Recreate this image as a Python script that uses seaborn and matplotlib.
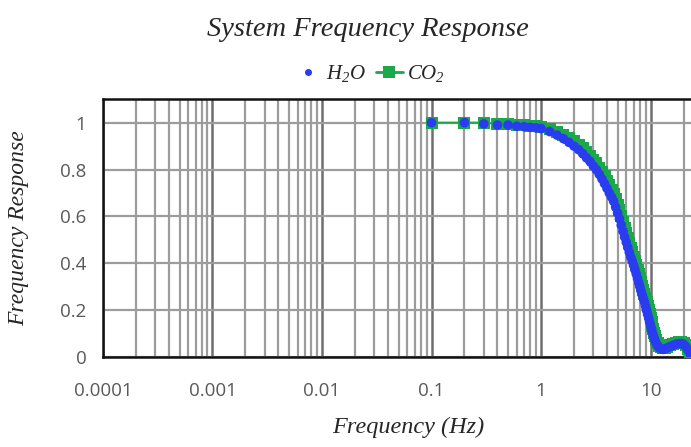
import pandas as pd
import matplotlib
matplotlib.use('Agg')
import matplotlib.pyplot as plt
import matplotlib.ticker as mticker
from matplotlib.lines import Line2D
import seaborn as sns

freq_h2o = [0.1, 0.2, 0.3, 0.4, 0.5, 0.6, 0.7, 0.8, 0.9, 1.0, 1.2, 1.4, 1.6, 1.8,
            2.0, 2.2, 2.4, 2.6, 2.8, 3.0, 3.2, 3.4, 3.6, 3.8, 4.0, 4.2, 4.4, 4.6,
            4.8, 5.0, 5.2, 5.4, 5.6, 5.8, 6.0, 6.2, 6.4, 6.6, 6.8, 7.0, 7.2, 7.4,
            7.6, 7.8, 8.0, 8.2, 8.4, 8.6, 8.8, 9.0, 9.2, 9.4, 9.6, 9.8, 10.0,
            10.2, 10.4, 10.6, 10.8, 11.0, 11.3, 11.6, 12.0, 12.5, 13.0, 13.5,
            14.0, 15.0, 16.0, 17.0, 18.0, 19.0, 20.0, 21.0, 22.0, 23.0, 24.0]
resp_h2o = [1.0, 1.0, 0.995, 0.99, 0.99, 0.985, 0.983, 0.98, 0.978, 0.975, 0.962,
            0.947, 0.932, 0.916, 0.9, 0.885, 0.868, 0.85, 0.835, 0.815, 0.8, 0.78,
            0.76, 0.74, 0.72, 0.70, 0.683, 0.665, 0.64, 0.615, 0.59, 0.563, 0.537,
            0.512, 0.49, 0.468, 0.447, 0.427, 0.41, 0.392, 0.373, 0.355, 0.336,
            0.317, 0.3, 0.282, 0.265, 0.25, 0.235, 0.218, 0.2, 0.183, 0.167, 0.15,
            0.135, 0.12, 0.105, 0.092, 0.08, 0.07, 0.058, 0.048, 0.04, 0.035,
            0.033, 0.035, 0.038, 0.045, 0.05, 0.055, 0.058, 0.058, 0.055, 0.045,
            0.03, 0.015, 0.005]

freq_co2 = [0.1, 0.2, 0.3, 0.4, 0.5, 0.6, 0.7, 0.8, 0.9, 1.0, 1.2, 1.4, 1.6, 1.8,
            2.0, 2.2, 2.4, 2.6, 2.8, 3.0, 3.2, 3.4, 3.6, 3.8, 4.0, 4.2, 4.4, 4.6,
            4.8, 5.0, 5.2, 5.4, 5.6, 5.8, 6.0, 6.2, 6.4, 6.6, 6.8, 7.0, 7.2, 7.4,
            7.6, 7.8, 8.0, 8.2, 8.4, 8.6, 8.8, 9.0, 9.2, 9.4, 9.6, 9.8, 10.0,
            10.2, 10.4, 10.6, 10.8, 11.0, 11.3, 11.6, 12.0, 12.5, 13.0, 13.5,
            14.0, 15.0, 16.0, 17.0, 18.0, 19.0, 20.0, 21.0, 22.0, 23.0, 24.0]
resp_co2 = [1.0, 1.0, 1.0, 0.995, 0.993, 0.99, 0.988, 0.986, 0.984, 0.982, 0.972,
            0.96, 0.947, 0.933, 0.92, 0.905, 0.89, 0.874, 0.858, 0.842, 0.826,
            0.808, 0.79, 0.772, 0.752, 0.733, 0.715, 0.695, 0.673, 0.65, 0.626,
            0.6, 0.575, 0.55, 0.528, 0.507, 0.486, 0.466, 0.447, 0.428, 0.41,
            0.392, 0.373, 0.355, 0.337, 0.32, 0.302, 0.285, 0.268, 0.252, 0.235,
            0.218, 0.2, 0.183, 0.166, 0.15, 0.134, 0.118, 0.103, 0.09, 0.074,
            0.06, 0.048, 0.042, 0.04, 0.041, 0.044, 0.05, 0.055, 0.06, 0.063,
            0.063, 0.06, 0.05, 0.036, 0.02, 0.008]

x_ticks = [0.0001, 0.001, 0.01, 0.1, 1, 10]
x_tick_labels = ['0.0001', '0.001', '0.01', '0.1', '1', '10']
y_ticks = [0, 0.2, 0.4, 0.6, 0.8, 1]
y_tick_labels = ['0', '0.2', '0.4', '0.6', '0.8', '1']

df_h2o = pd.DataFrame({'freq': freq_h2o, 'resp': resp_h2o})
df_co2 = pd.DataFrame({'freq': freq_co2, 'resp': resp_co2})

sns.set_style('white')
plt.rcParams['mathtext.fontset'] = 'custom'
plt.rcParams['mathtext.rm'] = 'Liberation Serif:italic'
plt.rcParams['mathtext.it'] = 'Liberation Serif:italic'

serif = dict(family='Liberation Serif', style='italic', color='#262626')
blue = '#2a3cf0'
green = '#1aa84a'

fig = plt.figure(figsize=(6.91, 4.47), dpi=100)
ax = fig.add_axes([0.149, 0.201, 0.851, 0.577])

ax.set_xscale('log')
sns.lineplot(data=df_co2, x='freq', y='resp', ax=ax, color=green, marker='s',
             markersize=8, markeredgewidth=0, linewidth=1.5, legend=False, zorder=3)
sns.scatterplot(data=df_h2o, x='freq', y='resp', ax=ax, color=blue, s=48,
                edgecolor='none', legend=False, zorder=4)

ax.set_xlim(1e-4, 23.4)
ax.set_ylim(0, 1.1)

ax.xaxis.set_major_locator(mticker.FixedLocator(x_ticks))
ax.xaxis.set_major_formatter(mticker.FixedFormatter(x_tick_labels))
ax.xaxis.set_minor_locator(mticker.LogLocator(base=10, subs=range(2, 10), numticks=20))
ax.xaxis.set_minor_formatter(mticker.NullFormatter())
ax.set_yticks(y_ticks)
ax.set_yticklabels(y_tick_labels)

ax.grid(True, which='major', axis='x', color='#6e6e6e', linewidth=1.8)
ax.grid(True, which='minor', axis='x', color='#9c9c9c', linewidth=1.6)
ax.grid(True, which='major', axis='y', color='#9c9c9c', linewidth=1.6)
ax.set_axisbelow(True)

ax.tick_params(axis='both', which='both', length=0)
ax.tick_params(axis='x', pad=18, labelsize=13.5, labelcolor='#595959')
ax.tick_params(axis='y', pad=12, labelsize=13.5, labelcolor='#595959')
for lab in ax.get_xticklabels() + ax.get_yticklabels():
    lab.set_fontfamily('Open Sans')

for side in ['left', 'bottom', 'top']:
    ax.spines[side].set_color('#111111')
    ax.spines[side].set_linewidth(1.8)
ax.spines['right'].set_visible(False)

ax.set_xlabel('Frequency (Hz)', fontsize=17.5, **serif)
ax.xaxis.set_label_coords(0.52, -0.232)
ax.set_ylabel('Frequency Response', fontsize=17, **serif)
ax.yaxis.set_label_coords(-0.125, 0.5)
fig.text(0.533, 0.935, 'System Frequency Response', ha='center', va='center',
         fontsize=20.5, **serif)

handles = [Line2D([], [], color=blue, marker='o', markersize=4, linestyle='none'),
           Line2D([], [], color=green, marker='s', markersize=8, markeredgewidth=0,
                  linewidth=2)]
leg = fig.legend(handles, ['$H_2O$', '$CO_2$'], loc='center',
                 bbox_to_anchor=(0.535, 0.836), ncol=2, frameon=False,
                 fontsize=15, handlelength=1.3, handletextpad=0.2, columnspacing=0.5)
for t in leg.get_texts():
    t.set_color('#262626')

plt.savefig('out.png', dpi=100)
